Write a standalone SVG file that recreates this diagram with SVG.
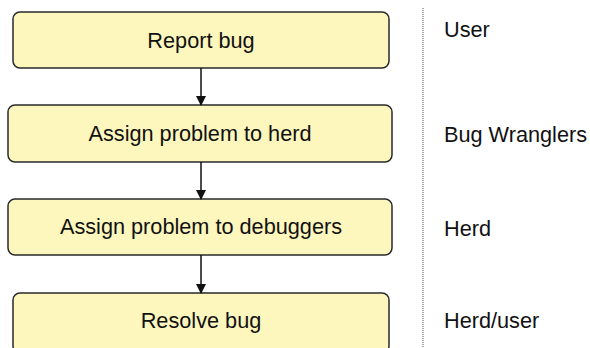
<svg xmlns="http://www.w3.org/2000/svg" width="590" height="348" viewBox="0 0 590 348">
<style>
.box{fill:#fdf7bd;stroke:#2a2a2a;stroke-width:1.5}
.t{font-family:"Liberation Sans",Arial,sans-serif;font-size:21.7px;fill:#111}
.c{text-anchor:middle}
.edge{stroke:#111;stroke-width:1.5;fill:none;marker-end:url(#ah)}
</style>
<defs>
<marker id="ah" markerWidth="10" markerHeight="10" refX="9" refY="5" orient="auto" markerUnits="userSpaceOnUse">
<path d="M0,0 L10,5 L0,10 Z" fill="#111"/>
</marker>
</defs>
<g id="n1"><rect class="box" x="13" y="12" width="376" height="56" rx="7"/><text class="t c" x="201" y="48">Report bug</text></g>
<g id="n2"><rect class="box" x="8" y="105" width="384" height="57" rx="7"/><text class="t c" x="200" y="141">Assign problem to herd</text></g>
<g id="n3"><rect class="box" x="8" y="199" width="384" height="56" rx="7"/><text class="t c" x="201" y="234">Assign problem to debuggers</text></g>
<g id="n4"><rect class="box" x="13" y="293" width="376" height="60" rx="7"/><text class="t c" x="201" y="328">Resolve bug</text></g>
<g id="connectors">
<line class="edge" x1="201" y1="68" x2="201" y2="105"/>
<line class="edge" x1="201" y1="162" x2="201" y2="199"/>
<line class="edge" x1="201" y1="255" x2="201" y2="293"/>
</g>
<g id="lanes">
<line x1="423" y1="8" x2="423" y2="348" stroke="#555" stroke-width="1" stroke-dasharray="1,1"/>
<text class="t" x="444" y="37">User</text>
<text class="t" x="444" y="142">Bug Wranglers</text>
<text class="t" x="444" y="236">Herd</text>
<text class="t" x="444" y="328">Herd/user</text>
</g>
</svg>
